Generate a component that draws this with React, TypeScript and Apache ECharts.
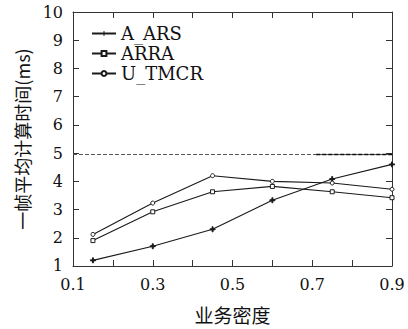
import React, { useEffect, useRef } from "react";
import * as echarts from "echarts";

const xValues = [0.15, 0.3, 0.45, 0.6, 0.75, 0.9];
const aArs = [1.2, 1.7, 2.3, 3.33, 4.08, 4.6];
const arra = [1.9, 2.92, 3.63, 3.82, 3.63, 3.42];
const uTmcr = [2.12, 3.23, 4.2, 4.0, 3.94, 3.72];
const refLevel = 4.95;
const refThickStart = 0.71;
const xTickLabels = ["0.1", "0.3", "0.5", "0.7", "0.9"];
const seriesNames = ["A_ARS", "ARRA", "U_TMCR"];

const FONT = "DejaVu Serif";
const CJK = "Noto Sans CJK SC";

export default function App() {
  const ref = useRef<HTMLDivElement>(null);
  useEffect(() => {
    const chart = echarts.init(ref.current!, null, { renderer: "svg" });
    const pair = (ys: number[]) => xValues.map((x, i) => [x, ys[i]]);
    const plus = "path://M-1,-0.2L1,-0.2L1,0.2L-1,0.2ZM-0.2,-1L0.2,-1L0.2,1L-0.2,1Z";
    const lineCommon = {
      type: "line",
      xAxisIndex: 0,
      yAxisIndex: 0,
      lineStyle: { color: "#1a1a1a", width: 1.1 },
      itemStyle: { color: "#1a1a1a", borderColor: "#1a1a1a" },
      emphasis: { disabled: true },
    };
    const option: any = {
      animation: false,
      backgroundColor: "#fff",
      textStyle: { fontFamily: FONT },
      grid: { left: 73, right: 16, top: 12, bottom: 61, containLabel: false },
      legend: {
        left: 86,
        top: 19,
        orient: "vertical",
        itemWidth: 24,
        itemHeight: 6,
        itemGap: 1,
        data: seriesNames,
        textStyle: { fontFamily: FONT, fontSize: 18, lineHeight: 19, color: "#111" },
      },
      xAxis: [
        {
          type: "value",
          min: 0.1,
          max: 0.9,
          interval: 0.1,
          axisLine: { show: true, lineStyle: { color: "#333", width: 1 } },
          axisTick: { show: true, inside: true, length: 6, lineStyle: { color: "#333" } },
          splitLine: { show: false },
          axisLabel: {
            fontFamily: FONT,
            fontSize: 16,
            color: "#111",
            margin: 11,
            formatter: (v: number) => {
              const s = (Math.round(v * 10) / 10).toFixed(1);
              return xTickLabels.includes(s) ? s : "";
            },
          },
          name: "业务密度",
          nameLocation: "middle",
          nameGap: 39,
          nameTextStyle: { fontFamily: CJK, fontSize: 19, color: "#111" },
        },
        {
          type: "value",
          position: "top",
          min: 0.1,
          max: 0.9,
          interval: 0.1,
          axisLine: { show: true, lineStyle: { color: "#333", width: 1 } },
          axisTick: { show: true, inside: true, length: 6, lineStyle: { color: "#333" } },
          axisLabel: { show: false },
          splitLine: { show: false },
        },
      ],
      yAxis: [
        {
          type: "value",
          min: 1,
          max: 10,
          interval: 1,
          axisLine: { show: true, lineStyle: { color: "#333", width: 1 } },
          axisTick: { show: true, inside: true, length: 6, lineStyle: { color: "#333" } },
          splitLine: { show: false },
          axisLabel: { fontFamily: FONT, fontSize: 16, color: "#111", margin: 10 },
          name: "一帧平均计算时间(ms)",
          nameLocation: "middle",
          nameGap: 42,
          nameTextStyle: { fontFamily: CJK, fontSize: 18, color: "#111" },
        },
        {
          type: "value",
          position: "right",
          min: 1,
          max: 10,
          interval: 1,
          axisLine: { show: true, lineStyle: { color: "#333", width: 1 } },
          axisTick: { show: true, inside: true, length: 6, lineStyle: { color: "#333" } },
          axisLabel: { show: false },
          splitLine: { show: false },
        },
      ],
      series: [
        {
          ...lineCommon,
          name: seriesNames[0],
          data: pair(aArs),
          symbol: plus,
          symbolSize: 5,
        },
        {
          ...lineCommon,
          name: seriesNames[1],
          data: pair(arra),
          symbol: "rect",
          symbolSize: 4,
          itemStyle: { color: "#fff", borderColor: "#1a1a1a", borderWidth: 1 },
        },
        {
          ...lineCommon,
          name: seriesNames[2],
          data: pair(uTmcr),
          symbol: "circle",
          symbolSize: 4,
          itemStyle: { color: "#fff", borderColor: "#1a1a1a", borderWidth: 1 },
        },
        {
          type: "line",
          name: "ref",
          data: [
            [0.1, refLevel],
            [0.9, refLevel],
          ],
          symbol: "none",
          lineStyle: { color: "#555", width: 1, type: [4, 2] },
          emphasis: { disabled: true },
        },
        {
          type: "line",
          name: "ref2",
          data: [
            [refThickStart, refLevel],
            [0.9, refLevel],
          ],
          symbol: "none",
          lineStyle: { color: "#111", width: 1.6, type: [4, 2] },
          emphasis: { disabled: true },
        },
      ],
    };
    chart.setOption(option);
    return () => chart.dispose();
  }, []);
  return (
    <div
      ref={ref}
      style={{ width: 408, height: 329, position: "absolute", left: 0, top: 0 }}
    />
  );
}
